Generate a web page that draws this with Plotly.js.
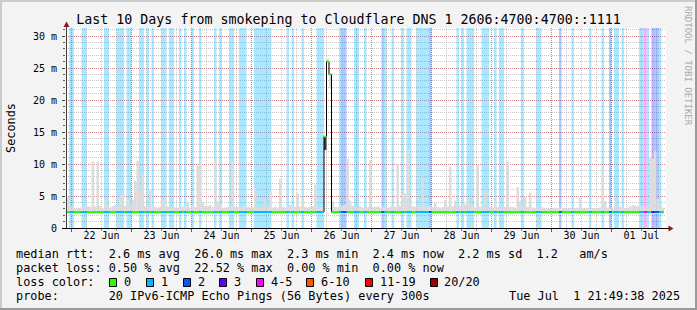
<!DOCTYPE html>
<html><head><meta charset="utf-8">
<script src="https://cdn.plot.ly/plotly-3.0.1.min.js"></script>
<style>html,body{margin:0;padding:0;background:#F3F3F3;overflow:hidden;}</style>
</head><body><div id="chart" style="width:697px;height:310px;"></div>
<script>
// ---------- data ----------
const titleText = 'Last 10 Days from smokeping to Cloudflare DNS 1 2606:4700:4700::1111';
const dayMidnights = ['2025-06-22','2025-06-23','2025-06-24','2025-06-25','2025-06-26','2025-06-27','2025-06-28','2025-06-29','2025-06-30','2025-07-01'];
const dayNoons = ['2025-06-22 12:00','2025-06-23 12:00','2025-06-24 12:00','2025-06-25 12:00','2025-06-26 12:00','2025-06-27 12:00','2025-06-28 12:00','2025-06-29 12:00','2025-06-30 12:00','2025-07-01 12:00'];
const dayLabels = ['22 Jun','23 Jun','24 Jun','25 Jun','26 Jun','27 Jun','28 Jun','29 Jun','30 Jun','01 Jul'];
const yTickVals = [0,5,10,15,20,25,30];
const yTickText = ['0','5 m','10 m','15 m','20 m','25 m','30 m'];
const yMax = 31.25;

// hourly samples, index 0 = 2025-06-21 22:00 (ms values)
const smokeTop = [
 4.8,3.6,
 3.2,3.0,3.1,3.2,3.3,3.5,3.4,3.3,10.4,3.4,10.4,3.4,3.0,4.4,3.6,3.2,3.4,3.6,3.3,5.0,5.2,3.5,4.4,3.3,
 4.5,7.4,10.5,6.0,8.5,3.4,3.5,5.9,3.2,3.3,3.2,3.3,4.4,4.4,3.4,3.3,3.2,3.2,3.2,3.1,3.3,3.2,4.1,3.2,
 3.5,3.3,9.7,10.0,4.0,3.5,3.4,3.6,3.3,10.9,4.2,3.9,3.2,3.2,3.3,3.2,10.4,3.3,3.3,3.2,3.3,3.6,3.3,3.2,
 3.3,6.2,3.2,3.2,3.1,4.4,3.2,5.9,3.2,3.3,3.2,7.6,3.3,3.2,3.3,3.6,3.2,3.3,5.4,3.3,4.2,3.3,3.2,3.3,
 3.4,6.8,3.3,3.2,3.3,14.3,26.5,24.0,4.2,3.3,3.3,3.4,3.5,3.6,10.8,4.3,3.5,3.4,3.3,3.4,3.2,3.2,3.3,10.6,
 3.3,3.3,3.4,3.2,3.3,3.2,3.2,3.3,3.4,3.3,10.0,3.5,5.4,5.4,12.0,4.0,3.4,3.3,3.3,3.4,8.0,3.4,3.3,3.5,
 3.3,3.9,3.3,3.2,3.3,4.4,3.4,9.6,3.4,4.3,3.3,3.5,3.8,3.7,4.4,3.8,3.3,3.2,9.8,3.3,3.4,6.0,3.3,3.3,
 3.2,4.3,3.3,3.3,3.2,3.3,10.4,3.3,3.3,3.2,6.4,4.2,3.3,4.9,3.3,5.5,3.2,3.1,3.2,3.1,3.2,3.0,3.1,3.0,
 3.1,3.2,3.1,3.2,3.1,3.1,3.0,3.1,3.0,3.1,3.2,4.7,3.1,3.0,3.1,3.0,3.1,3.0,3.1,3.2,9.1,4.2,3.2,3.1,
 3.2,4.5,3.2,3.3,3.2,3.1,3.2,3.4,3.6,3.5,3.4,3.3,3.5,3.3,3.4,10.9,10.9,12.0,4.5,3.3,3.2
];
const smokeLow = [
 2.2,2.2,
 2.2,2.2,2.2,2.2,2.2,2.2,2.2,2.2,2.2,2.2,2.2,2.2,2.2,2.2,2.2,2.2,2.2,2.2,2.2,2.2,2.2,2.2,2.2,2.2,
 2.2,2.2,2.2,2.2,2.2,2.2,2.2,2.2,2.2,2.2,2.2,2.2,2.2,2.2,2.2,2.2,2.2,2.2,2.2,2.2,2.2,2.2,2.2,2.2,
 2.2,2.2,2.2,2.2,2.2,2.2,2.2,2.2,2.2,2.2,2.2,2.2,2.2,2.2,2.2,2.2,2.2,2.2,2.2,2.2,2.2,2.2,2.2,2.2,
 2.2,2.2,2.2,2.2,2.2,2.2,2.2,2.2,2.2,2.2,2.2,2.2,2.2,2.2,2.2,2.2,2.2,2.2,2.2,2.2,2.2,2.2,2.2,2.2,
 2.2,2.2,2.2,2.2,2.2,12.2,26.0,21.8,2.2,2.2,2.2,2.2,2.2,2.2,2.2,2.2,2.2,2.2,2.2,2.2,2.2,2.2,2.2,2.2,
 2.2,2.2,2.2,2.2,2.2,2.2,2.2,2.2,2.2,2.2,2.2,2.2,2.2,2.2,2.2,2.2,2.2,2.2,2.2,2.2,2.2,2.2,2.2,2.2,
 2.2,2.2,2.2,2.2,2.2,2.2,2.2,2.2,2.2,2.2,2.2,2.2,2.2,2.2,2.2,2.2,2.2,2.2,2.2,2.2,2.2,2.2,2.2,2.2,
 2.2,2.2,2.2,2.2,2.2,2.2,2.2,2.2,2.2,2.2,2.2,2.2,2.2,2.2,2.2,2.2,2.2,2.2,2.2,2.2,2.2,2.2,2.2,2.2,
 2.2,2.2,2.2,2.2,2.2,2.2,2.2,2.2,2.2,2.2,2.2,2.2,2.2,2.2,2.2,2.2,2.2,2.2,2.2,2.2,2.2,2.2,2.2,2.2,
 2.2,2.2,2.2,2.2,2.2,2.2,2.2,2.2,2.2,2.2,2.2,2.2,2.2,2.2,2.2,2.2,2.2,2.2,2.2,2.2,2.2
];
const darkSmokeHours = [103];
// median rtt as a step series: value from hour index medianFrom[k]
const medianFrom  = [0, 103, 104, 105, 106];
const medianValue = [2.5, 14.3, 26.0, 24.0, 2.5];
// packet loss periods: start hour index, length in hours, lost pings (of 20)
const lossFrom  = [1,6,15,20,24,29,32,34,38,41,45,47,50,53,59,61,65,69,75,88,90,94,100,109,110,115,119,126,127,130,134,136,140,145,156,158,160,166,171,173,182,188,197,202,209,214,217,219,222,229,231,232,234,235,237];
const lossLen   = [2,2,2,3,2,2,1,1,2,2,1,1,1,1,1,1,2,3,7,1,1,1,3,1,2,2,1,1,1,1,1,2,5,1,1,1,3,3,1,2,1,2,1,1,1,1,1,2,1,2,1,1,1,2,1];
const lossCount = [1,1,1,1,1,1,1,1,1,1,1,1,1,1,1,1,1,1,1,1,1,1,1,1,2,1,1,2,1,1,1,1,1,2,1,1,1,1,1,1,1,1,2,1,1,1,2,1,1,1,4,1,3,2,1];

const lossLegendLabels = ['0','1','2','3','4-5','6-10','11-19','20/20'];
const lossColors = ['#26ff00','#00b8ff','#0059ff','#5e00ff','#ff00ff','#ff5500','#ff0000','#a10000'];
const rttStatNames = ['avg','max','min','now','sd'];
const rttStatValues = ['2.6','26.0','2.3','2.4','2.2'];
const amsValue = '1.2';
const lossStatNames = ['avg','max','min','now'];
const lossStatValues = ['0.50','22.52','0.00','0.00'];
const probeText = '20 IPv6-ICMP Echo Pings (56 Bytes) every 300s';
const stampText = 'Tue Jul  1 21:49:38 2025';

// ---------- build ----------
const mono = 'DejaVu Sans Mono';
const H = 3600000;
const hourStartMs = Date.UTC(2025,5,21,22,0,0);
const graphStartMs = Date.UTC(2025,5,21,21,48,0);
const graphEndMs = graphStartMs + 240*H;
const nHours = smokeTop.length;
function iso(ms){ return new Date(ms).toISOString().replace('T',' ').replace('Z',''); }
function tAt(i){ return iso(hourStartMs + i*H); }
function lossClass(n){ if(n<=0) return 0; if(n<=3) return n; if(n<=5) return 4; if(n<=10) return 5; if(n<=19) return 6; return 7; }
function rgba(hex,a){ const r=parseInt(hex.substr(1,2),16), g=parseInt(hex.substr(3,2),16), b=parseInt(hex.substr(5,2),16); return 'rgba('+r+','+g+','+b+','+a+')'; }
const nb = s => s.replace(/ /g,'\u00a0');

const traces = [];
// loss bands
const byClass = {};
const lossByHour = new Array(nHours).fill(0);
lossFrom.forEach((f,k)=>{
  const c = lossClass(lossCount[k]);
  (byClass[c] = byClass[c] || {x:[],w:[]});
  byClass[c].x.push(iso(hourStartMs + (f + lossLen[k]/2)*H));
  byClass[c].w.push(lossLen[k]*H);
  for(let j=f;j<f+lossLen[k];j++) if(j<nHours) lossByHour[j]=lossCount[k];
});
Object.keys(byClass).forEach(c=>{
  traces.push({type:'bar', x:byClass[c].x, y:byClass[c].x.map(()=>yMax), base:0, width:byClass[c].w,
    marker:{color:rgba(lossColors[c],0.33), line:{width:0}}, hoverinfo:'skip'});
});
// smoke
const sx=[], sy=[], sb=[], sc=[];
for(let i=0;i<nHours;i++){
  sx.push(iso(hourStartMs+(i+0.5)*H)); sb.push(smokeLow[i]); sy.push(smokeTop[i]-smokeLow[i]);
  sc.push(darkSmokeHours.includes(i) ? '#3a3a3a' : '#dcdcdc');
}
traces.push({type:'bar', x:sx, y:sy, base:sb, width:H, marker:{color:sc, line:{width:0}}, hoverinfo:'skip'});
// median
function medianAt(i){ let v=medianValue[0]; medianFrom.forEach((f,k)=>{ if(i>=f) v=medianValue[k]; }); return v; }
const stepX = medianFrom.map(tAt).concat([tAt(nHours)]);
const stepY = medianValue.concat([medianValue[medianValue.length-1]]);
traces.push({type:'scatter', mode:'lines', x:stepX, y:stepY, line:{shape:'hv', color:'#000', width:1}, hoverinfo:'skip'});
const seg = {};
let prev = null;
for(let i=0;i<nHours;i++){
  const c = lossClass(lossByHour[i]), v = medianAt(i);
  seg[c] = seg[c] || {x:[],y:[]};
  if(prev && prev.c===c && prev.v===v){ seg[c].x[seg[c].x.length-2] = tAt(i+1); }
  else { seg[c].x.push(tAt(i), tAt(i+1), null); seg[c].y.push(v, v, null); }
  prev = {c:c, v:v};
}
Object.keys(seg).forEach(c=>{
  traces.push({type:'scatter', mode:'lines', x:seg[c].x, y:seg[c].y, line:{color:lossColors[c], width:2}, connectgaps:false, hoverinfo:'skip'});
});
// carrier for the label axis
traces.push({type:'scatter', mode:'markers', x:dayNoons, y:dayNoons.map(()=>0), xaxis:'x2', marker:{opacity:0}, hoverinfo:'skip'});

// ---------- layout ----------
const L=66, T=28, PW=600, PH=200;
const X = px => (px-L)/PW, Y = py => (T+PH-py)/PH;
const shapes = [], annotations = [];
const pl = (x0,y0,x1,y1,color,w) => shapes.push({type:'line', xref:'paper', yref:'paper', x0:X(x0), y0:Y(y0), x1:X(x1), y1:Y(y1), line:{color:color, width:w}});
pl(0,1,697,1,'#cbcbcb',2); pl(1,0,1,310,'#cbcbcb',2);
pl(0,309,697,309,'#9a9a9a',2); pl(696,0,696,310,'#9a9a9a',2);
pl(66.5,228.5,66.5,25,'#404040',1);
pl(62,228.5,669,228.5,'#000000',1);
shapes.push({type:'path', xref:'paper', yref:'paper', path:'M'+X(63.5)+','+Y(27)+' L'+X(69.5)+','+Y(27)+' L'+X(66.5)+','+Y(21.5)+' Z', fillcolor:'#8b1a1a', line:{width:0}});
shapes.push({type:'path', xref:'paper', yref:'paper', path:'M'+X(668.5)+','+Y(225.5)+' L'+X(668.5)+','+Y(231.5)+' L'+X(673.5)+','+Y(228.5)+' Z', fillcolor:'#8b1a1a', line:{width:0}});

const ann = (px,py,text,opt) => annotations.push(Object.assign({xref:'paper', yref:'paper', x:X(px), y:Y(py), text:nb(text), showarrow:false, xanchor:'left', yanchor:'middle', font:{family:mono, size:11.85, color:'#000'}}, opt||{}));
ann(11,128,'Seconds',{xanchor:'center', textangle:-90});
ann(688,66,'RRDTOOL / TOBI OETIKER',{xanchor:'center', textangle:90, font:{family:mono, size:9, color:'#aaaaaa'}});
ann(14,254.3,'median rtt:  '+rttStatValues.map((v,k)=>v+' ms '+rttStatNames[k]).join('  ')+'  '+amsValue+'   am/s');
ann(14,268.3,'packet loss: '+lossStatValues.map((v,k)=>v+' % '+lossStatNames[k]).join('  '));
ann(14,282.3,'loss color:');
ann(14,296.3,'probe:       '+probeText);
ann(682,296.3,stampText,{xanchor:'right'});
const boxX = [109,146,183,219,256,306,365,430];
lossLegendLabels.forEach((lab,k)=>{
  shapes.push({type:'rect', xref:'paper', yref:'paper', x0:X(boxX[k]+0.5), x1:X(boxX[k]+7.5), y0:Y(286.5), y1:Y(278.5), fillcolor:lossColors[k], line:{color:'#000', width:1}});
  ann(boxX[k]+12.5,282.3,lab);
});

const redGrid = 'rgba(215,80,80,0.6)', grayGrid = 'rgba(130,130,130,0.45)';
const layout = {
  width:697, height:310, margin:{l:L, r:697-L-PW, t:T, b:310-T-PH, pad:0},
  paper_bgcolor:'#f3f3f3', plot_bgcolor:'#ffffff', showlegend:false, barmode:'overlay',
  title:{text:titleText, x:0.5, xanchor:'center', y:1-19/310, yanchor:'middle', font:{family:mono, size:13.3, color:'#000'}},
  xaxis:{type:'date', range:[iso(graphStartMs), iso(graphEndMs)], tickmode:'array', tickvals:dayMidnights, showticklabels:false,
    ticks:'outside', ticklen:3, tickcolor:'#c03030', showgrid:true, gridcolor:redGrid, griddash:'1px,1px', gridwidth:1,
    zeroline:false, showline:false, fixedrange:true,
    minor:{tickmode:'linear', tick0:'2025-06-22', dtick:6*H, showgrid:true, gridcolor:grayGrid, griddash:'1px,1px', ticks:'outside', ticklen:2, tickcolor:'#888'}},
  xaxis2:{type:'date', overlaying:'x', side:'bottom', range:[iso(graphStartMs), iso(graphEndMs)], tickmode:'array', tickvals:dayNoons, ticktext:dayLabels,
    showgrid:false, ticks:'', zeroline:false, showline:false, fixedrange:true, tickfont:{family:mono, size:10, color:'#000'}},
  yaxis:{range:[0,yMax], tickmode:'array', tickvals:yTickVals, ticktext:yTickText, showgrid:true, gridcolor:redGrid, griddash:'1px,1px', gridwidth:1,
    ticks:'outside', ticklen:3, tickcolor:'#404040', ticklabelstandoff:3, zeroline:false, showline:false, fixedrange:true, tickfont:{family:mono, size:10, color:'#000'},
    minor:{tickmode:'linear', tick0:0, dtick:1, showgrid:true, gridcolor:grayGrid, griddash:'1px,1px', ticks:'outside', ticklen:2, tickcolor:'#606060'}},
  shapes:shapes, annotations:annotations
};
Plotly.newPlot('chart', traces, layout, {staticPlot:true, displayModeBar:false});
</script>
</body></html>
